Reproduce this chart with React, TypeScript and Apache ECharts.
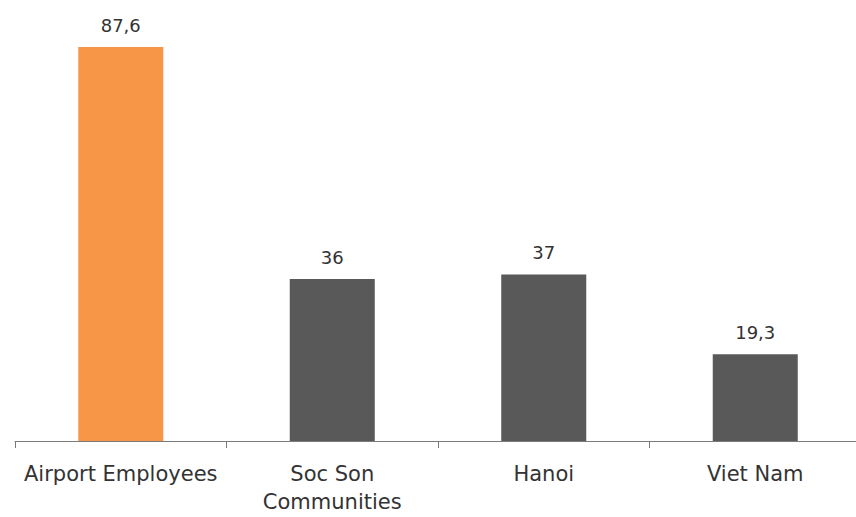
import React, { useEffect, useRef } from "react";
import * as echarts from "echarts";

const categories = ["Airport Employees", "Soc Son\nCommunities", "Hanoi", "Viet Nam"];
const values = [87.6, 36, 37, 19.3];
const barColors = ["#F79646", "#595959", "#595959", "#595959"];

export default function App() {
  const ref = useRef<HTMLDivElement>(null);
  useEffect(() => {
    if (!ref.current) return;
    const chart = echarts.init(ref.current, null, { renderer: "svg" });
    chart.setOption({
      animation: false,
      backgroundColor: "#ffffff",
      grid: { left: 15, right: 1, top: 47, bottom: 76, containLabel: false },
      xAxis: {
        type: "category",
        data: categories,
        axisLine: { lineStyle: { color: "#7a7a7a", width: 1 } },
        axisTick: { show: true, length: 7, lineStyle: { color: "#7a7a7a" } },
        axisLabel: {
          color: "#333333",
          fontFamily: "DejaVu Sans",
          fontSize: 21,
          margin: 19,
          lineHeight: 28,
          interval: 0,
        },
      },
      yAxis: {
        type: "value",
        min: 0,
        max: 87.6,
        show: false,
        splitLine: { show: false },
      },
      series: [
        {
          type: "bar",
          barWidth: 85,
          data: values.map((v, i) => ({ value: v, itemStyle: { color: barColors[i] } })),
          label: {
            show: true,
            position: "top",
            distance: 13,
            color: "#333333",
            fontFamily: "DejaVu Sans",
            fontSize: 18,
            formatter: (p: any) => String(p.value).replace(".", ","),
          },
        },
      ],
    });
    return () => chart.dispose();
  }, []);
  return (
    <div
      style={{
        position: "absolute",
        left: 0,
        top: 0,
        width: 856,
        height: 517,
        overflow: "hidden",
        background: "#ffffff",
      }}
    >
      <div ref={ref} style={{ width: 862, height: 517 }} />
    </div>
  );
}
